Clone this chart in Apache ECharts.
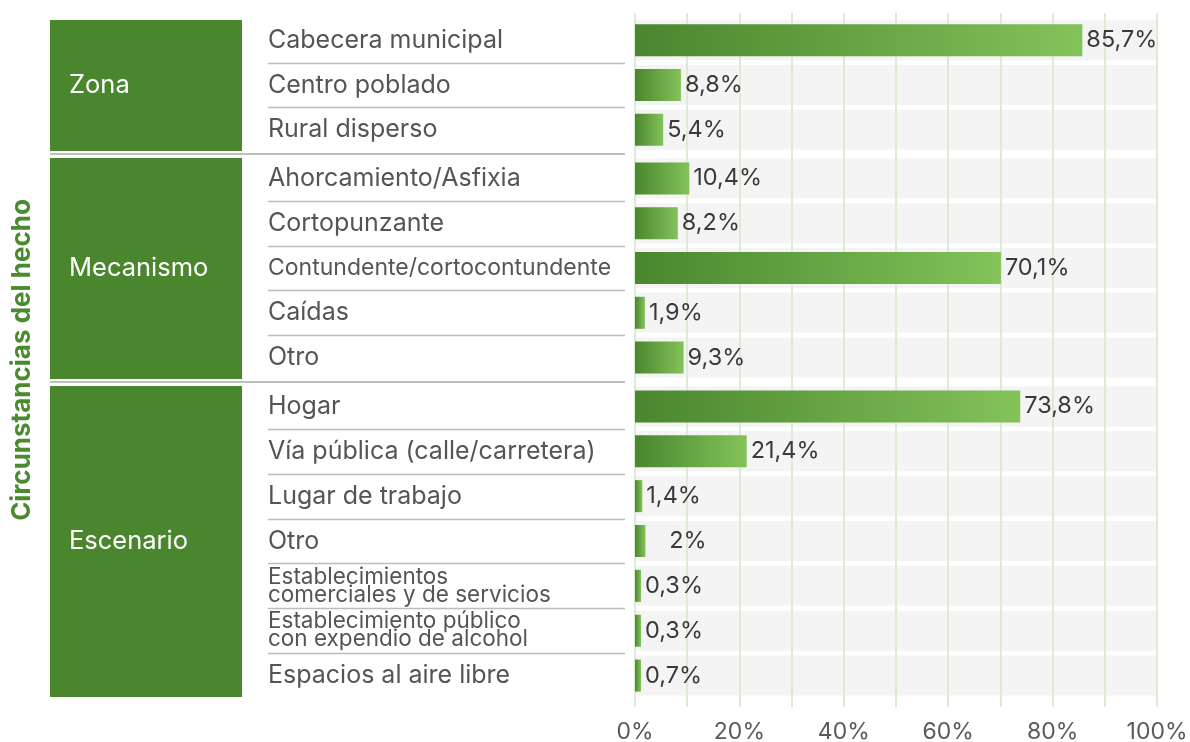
<!DOCTYPE html>
<html>
<head>
<meta charset="utf-8">
<script src="https://cdn.jsdelivr.net/npm/echarts@6/dist/echarts.min.js"></script>
<style>
html, body { margin: 0; background: #fff; }
#chart { width: 1190px; height: 742px; }
</style>
</head>
<body>
<div id="chart"></div>
<script>
var groups = ['Zona', 'Mecanismo', 'Escenario']
var zonaCats = ['Cabecera municipal', 'Centro poblado', 'Rural disperso']
var zonaVals = [85.7, 8.8, 5.4]
var mecCats = ['Ahorcamiento/Asfixia', 'Cortopunzante', 'Contundente/cortocontundente', 'Caídas', 'Otro']
var mecVals = [10.4, 8.2, 70.1, 1.9, 9.3]
var escCats = ['Hogar', 'Vía pública (calle/carretera)', 'Lugar de trabajo', 'Otro',
  'Establecimientos\ncomerciales y de servicios', 'Establecimiento público\ncon expendio de alcohol',
  'Espacios al aire libre']
var escVals = [73.8, 21.4, 1.4, 2, 0.3, 0.3, 0.7]
var xTicks = [0, 20, 40, 60, 80, 100]

var cats = [zonaCats, mecCats, escCats]
var vals = [zonaVals, mecVals, escVals]

// layout of the three blocks (top, bottom in px)
var bands = [[18, 152], [156, 380], [384, 698]]
var plotLeft = 635, plotRight = 33
var labelLeft = 268, labelRight = 625
var font = 'Inter'
var green = '#4a862e'

var grid = [{ left: plotLeft, right: plotRight, top: 13, bottom: 35, outerBoundsMode: 'none' }]
var xAxis = [{
  gridIndex: 0, type: 'value', min: 0, max: 100, interval: 10,
  axisLine: { show: false }, axisTick: { show: false },
  splitLine: { lineStyle: { color: '#dcebd4', width: 2 } },
  axisLabel: {
    margin: 14, fontSize: 23, color: '#5a5a5a', fontFamily: font,
    formatter: function (v) { return xTicks.indexOf(v) >= 0 ? v + '%' : '' }
  },
  z: 1.5
}]
var yAxis = [{
  gridIndex: 0, type: 'value', min: 0, max: 1,
  axisLine: { show: false }, axisTick: { show: false }, axisLabel: { show: false },
  splitLine: { show: false },
  name: 'Circunstancias del hecho', nameLocation: 'middle', nameRotate: 90, nameGap: 600,
  nameTextStyle: { color: '#4a8b2f', fontSize: 26, fontWeight: 'bold', fontFamily: font }
}]
var series = []
var graphic = []

var boxW = labelRight - labelLeft
function catLabel(c) {
  if (c.indexOf('\n') >= 0) {
    return c.split('\n').map(function (l) { return '{s|' + l + '}' }).join('\n')
  }
  // one long word: a bit smaller
  return (c.indexOf(' ') < 0 && c.length > 20 ? '{m|' : '{n|') + c + '}'
}

bands.forEach(function (b, g) {
  grid.push({ left: plotLeft, right: plotRight, top: b[0], height: b[1] - b[0], outerBoundsMode: 'none' })
  xAxis.push({ gridIndex: g + 1, type: 'value', min: 0, max: 100, show: false })
  yAxis.push({
    gridIndex: g + 1, type: 'category', inverse: true, data: cats[g], offset: plotLeft - labelRight,
    axisLine: { show: false }, axisTick: { show: false },
    axisLabel: {
      margin: 0, color: '#555', fontFamily: font, formatter: catLabel,
      rich: {
        n: { width: boxW, align: 'left', fontSize: 25, color: '#555', fontFamily: font },
        m: { width: boxW, align: 'left', fontSize: 23, color: '#555', fontFamily: font },
        s: { width: boxW, align: 'left', fontSize: 22.5, lineHeight: 18, color: '#555', fontFamily: font }
      }
    }
  })
  yAxis.push({ gridIndex: g + 1, type: 'category', inverse: true, data: cats[g], show: false })
  var ya = yAxis.length - 2
  series.push({
    type: 'bar', xAxisIndex: g + 1, yAxisIndex: ya + 1, silent: true, z: 1,
    barWidth: 40, itemStyle: { color: '#f4f4f4' },
    data: cats[g].map(function () { return 100 })
  })
  series.push({
    type: 'bar', xAxisIndex: g + 1, yAxisIndex: ya, z: 2, barWidth: 32, barMinHeight: 6,
    itemStyle: {
      color: new echarts.graphic.LinearGradient(0, 0, 1, 0, [
        { offset: 0, color: '#4a862e' }, { offset: 1, color: '#84c25a' }
      ])
    },
    label: {
      show: true, position: 'right', distance: 4, fontSize: 23.5, color: '#3a3a3a', fontFamily: font,
      formatter: function (p) {
        var s = String(p.value).replace('.', ',') + '%'
        return s.indexOf(',') < 0 ? '   ' + s : s
      }
    },
    data: vals[g]
  })

  // group box
  graphic.push({
    type: 'rect', shape: { x: 50, y: b[0] + 2, width: 192, height: b[1] - b[0] - 3 },
    style: { fill: green }, silent: true
  })
  graphic.push({
    type: 'text', x: 69, y: (b[0] + b[1]) / 2,
    style: { text: groups[g], fill: '#fff', fontSize: 25.5, fontFamily: font, verticalAlign: 'middle' },
    silent: true
  })
  // separators between items
  var n = cats[g].length, h = (b[1] - b[0]) / n
  for (var i = 1; i < n; i++) {
    var y = Math.round(b[0] + i * h) + 0.5
    graphic.push({
      type: 'line', shape: { x1: labelLeft, y1: y, x2: labelRight, y2: y },
      style: { stroke: '#bdbdbd', lineWidth: 1.5 }, silent: true
    })
  }
  // separator between groups
  if (g > 0) {
    var yy = (bands[g - 1][1] + b[0]) / 2
    graphic.push({
      type: 'line', shape: { x1: 50, y1: yy, x2: labelRight, y2: yy },
      style: { stroke: '#aaaaaa', lineWidth: 1.5 }, silent: true
    })
  }
})

var chart = echarts.init(document.getElementById('chart'))
chart.setOption({
  animation: false,
  grid: grid,
  xAxis: xAxis,
  yAxis: yAxis,
  series: series,
  graphic: graphic
})
</script>
</body>
</html>
